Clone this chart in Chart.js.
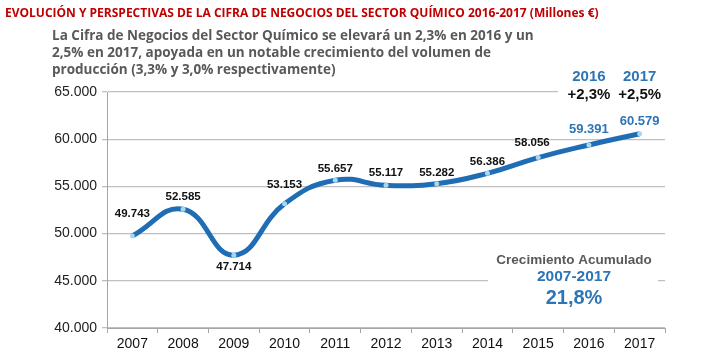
<!DOCTYPE html>
<html>
<head>
<meta charset="utf-8">
<script src="https://cdn.jsdelivr.net/npm/chart.js@4/dist/chart.umd.min.js"></script>
<style>
  html, body { margin: 0; padding: 0; background: #fff; }
  #wrap { position: relative; width: 702px; height: 360px; overflow: hidden; }
  #title { position: absolute; left: 5px; top: 4px; font: bold 12px "Liberation Sans Narrow", "Open Sans", sans-serif; color: #c00000; white-space: nowrap; }
  #sub { position: absolute; left: 52px; top: 27px; width: 485px; font: bold 13.5px "Open Sans", sans-serif; line-height: 17px; color: #595959; }
  canvas { position: absolute; left: 0; top: 0; }
</style>
</head>
<body>
<div id="wrap">
  <canvas id="chart" width="702" height="360"></canvas>
  <div id="title">EVOLUCIÓN Y PERSPECTIVAS DE LA CIFRA DE NEGOCIOS DEL SECTOR QUÍMICO 2016-2017 (Millones €)</div>
  <div id="sub">La Cifra de Negocios del Sector Químico se elevará un 2,3% en 2016 y un 2,5% en 2017, apoyada en un notable crecimiento del volumen de producción (3,3% y 3,0% respectivamente)</div>
</div>
<script>
const years = ['2007', '2008', '2009', '2010', '2011', '2012', '2013', '2014', '2015', '2016', '2017'];
const cifraNegocios = [49743, 52585, 47714, 53153, 55657, 55117, 55282, 56386, 58056, 59391, 60579];
const yTicks = [40000, 45000, 50000, 55000, 60000, 65000];
const forecastYears = ['2016', '2017'];
const forecastGrowth = ['+2,3%', '+2,5%'];
const acumulado = { label: 'Crecimiento Acumulado', period: '2007-2017', value: '21,8%' };

const BLUE = '#1f6db5';
const fmt = v => String(Math.round(v)).replace(/\B(?=(\d{3})+(?!\d))/g, '.');

// label offsets above (-) or below (+) each point
const labelDy = [-22, -12, 12, -19, -11, -12, -11, -11, -15, -16, -12];
const labelDx = [0, 0, 0, 0, 0, 0, 0, 0, -6, 0, 0];

const labelsPlugin = {
  id: 'pointLabels',
  afterDatasetsDraw(chart) {
    const ctx = chart.ctx;
    const pts = chart.getDatasetMeta(0).data;
    ctx.save();
    ctx.textAlign = 'center';
    ctx.textBaseline = 'middle';
    pts.forEach((p, i) => {
      const forecast = i >= cifraNegocios.length - 2;
      ctx.font = forecast ? 'bold 13px "Liberation Sans", Arial' : 'bold 11.5px "Liberation Sans", Arial';
      ctx.fillStyle = forecast ? '#2e75b6' : '#111';
      ctx.fillText(fmt(cifraNegocios[i]), p.x + labelDx[i], p.y + labelDy[i]);
    });
    ctx.restore();
  }
};

const notesPlugin = {
  id: 'notes',
  beforeDatasetsDraw(chart) {
    const ctx = chart.ctx;
    ctx.save();
    ctx.fillStyle = '#fff';
    ctx.fillRect(558, 66, 110, 36);
    ctx.fillRect(488, 250, 170, 60);
    ctx.restore();
  },
  afterDraw(chart) {
    const ctx = chart.ctx;
    const x = chart.scales.x;
    ctx.save();
    ctx.textAlign = 'center';
    ctx.textBaseline = 'middle';
    forecastYears.forEach((yr, i) => {
      const px = x.getPixelForValue(years.indexOf(yr));
      ctx.font = 'bold 15px "Liberation Sans", Arial';
      ctx.fillStyle = '#2e75b6';
      ctx.fillText(yr, px, 77);
      ctx.fillStyle = '#111';
      ctx.fillText(forecastGrowth[i], px, 95);
    });
    ctx.font = 'bold 13.5px "Liberation Sans", Arial';
    ctx.fillStyle = '#595959';
    ctx.fillText(acumulado.label, 574, 260);
    ctx.font = 'bold 15.5px "Liberation Sans", Arial';
    ctx.fillStyle = '#2e75b6';
    ctx.fillText(acumulado.period, 574, 277);
    ctx.font = 'bold 20px "Liberation Sans", Arial';
    ctx.fillText(acumulado.value, 574, 298);
    ctx.restore();
  }
};

new Chart(document.getElementById('chart'), {
  type: 'line',
  data: {
    labels: years,
    datasets: [{
      data: cifraNegocios,
      borderColor: BLUE,
      borderWidth: 5,
      tension: 0.45,
      pointRadius: 2.5,
      pointBackgroundColor: '#a8d8ee',
      pointBorderWidth: 0,
    }],
  },
  options: {
    responsive: false,
    animation: false,
    layout: { padding: { left: 0, top: 92, right: 37, bottom: 0 } },
    plugins: { legend: { display: false }, tooltip: { enabled: false } },
    scales: {
      x: {
        offset: true,
        grid: { display: true, drawOnChartArea: false, offset: true, tickLength: 5, color: '#a6a6a6' },
        border: { color: '#a6a6a6' },
        ticks: { color: '#111', font: { family: '"Liberation Sans", Arial', size: 14 }, padding: 3 },
        afterFit(s) { s.height = 32; },
      },
      y: {
        min: 40000,
        max: 65000,
        afterBuildTicks(s) { s.ticks = yTicks.map(v => ({ value: v })); },
        grid: { color: '#bfbfbf', lineWidth: 1.3, tickLength: 5 },
        border: { color: '#a6a6a6' },
        ticks: { color: '#222', font: { family: '"Liberation Sans", Arial', size: 14 }, padding: 5, callback: v => fmt(v) },
        afterFit(s) { s.width = 107; },
      },
    },
  },
  plugins: [labelsPlugin, notesPlugin],
});
</script>
</body>
</html>
